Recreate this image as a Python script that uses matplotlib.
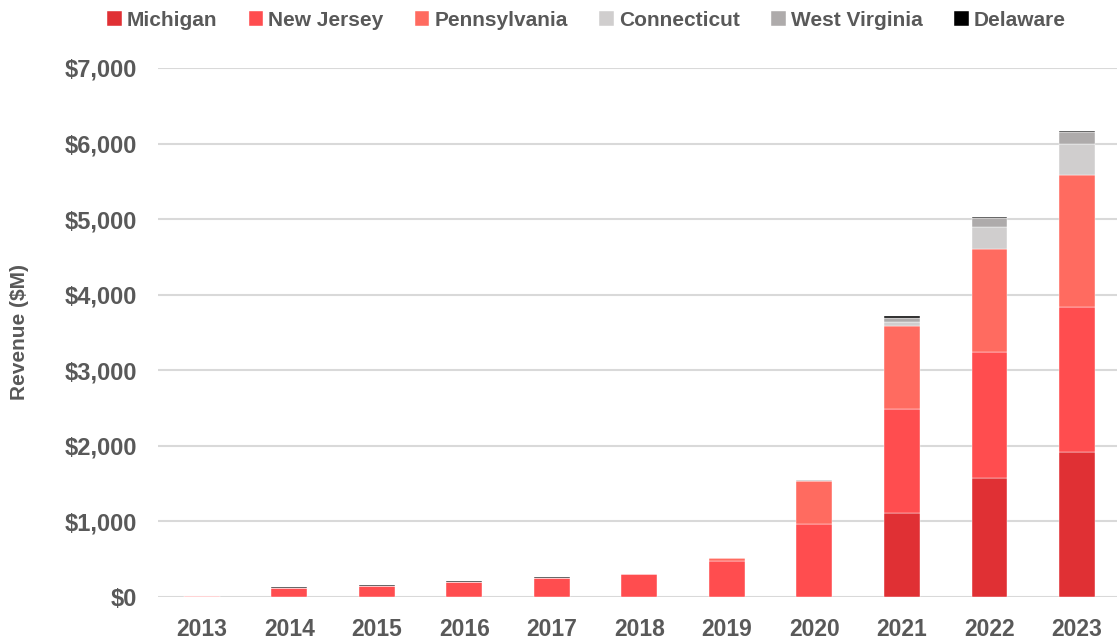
import numpy as np
import matplotlib
matplotlib.use("Agg")
import matplotlib.pyplot as plt
from matplotlib.ticker import StrMethodFormatter

years = ["2013", "2014", "2015", "2016", "2017", "2018", "2019", "2020", "2021", "2022", "2023"]
states = ["Michigan", "New Jersey", "Pennsylvania", "Connecticut", "West Virginia", "Delaware"]
michigan = [0, 0, 0, 0, 0, 0, 0, 0, 1111, 1575, 1919]
new_jersey = [8, 124, 152, 204, 256, 298, 480, 970, 1377, 1671, 1923]
pennsylvania = [0, 0, 0, 0, 0, 0, 33, 565, 1102, 1363, 1742]
connecticut = [0, 0, 0, 0, 0, 0, 0, 0, 45, 291, 410]
west_virginia = [0, 0, 0, 0, 0, 0, 0, 10, 62, 111, 163]
delaware = [0.5, 6, 6, 6, 6, 6, 6, 8, 15, 14, 10]
colors = ["#E03034", "#FF4D4F", "#FF6B60", "#D0CECE", "#AEABAB", "#000000"]

series = [michigan, new_jersey, pennsylvania, connecticut, west_virginia, delaware]
txt = "#595959"
font = "Liberation Sans"

fig = plt.figure(figsize=(11.17, 6.41), dpi=100)
ax = fig.add_axes([158 / 1117, 1 - 597 / 641, 1 - 158 / 1117, (597 - 68) / 641])

x = np.arange(len(years))
bottom = np.zeros(len(years))
for name, vals, c in zip(states, series, colors):
    vals = np.array(vals, dtype=float)
    ax.bar(x, vals, 0.41, bottom=bottom, color=c, label=name, zorder=3,
           edgecolor="white", linewidth=0.3)
    bottom += vals

ax.set_ylim(0, 7000)
ax.set_xlim(-0.5, 10.457)
ax.set_yticks(np.arange(0, 7001, 1000))
ax.yaxis.set_major_formatter(StrMethodFormatter("${x:,.0f}"))
ax.set_xticks(x)
ax.set_xticklabels(years)
ax.grid(axis="y", color="#D9D9D9", linewidth=1.5, zorder=0)
for s in ax.spines.values():
    s.set_visible(False)
ax.tick_params(axis="x", length=0, labelsize=16.5, labelcolor=txt, pad=15)
ax.tick_params(axis="y", length=0, labelsize=17, labelcolor=txt, pad=15)
for lab in ax.get_xticklabels() + ax.get_yticklabels():
    lab.set_fontweight("bold")
    lab.set_family(font)

ax.set_ylabel("Revenue ($M)", fontsize=15, fontweight="bold", color=txt,
              family=font, labelpad=26)

fig.legend(loc="center left", bbox_to_anchor=(107 / 1117, 1 - 20 / 641), ncol=6,
           frameon=False, borderpad=0, borderaxespad=0,
           handlelength=0.7, handleheight=0.7, handletextpad=0.25, columnspacing=1.5,
           prop={"family": font, "weight": "bold", "size": 15},
           labelcolor=txt)

fig.savefig("out.png", dpi=100)
